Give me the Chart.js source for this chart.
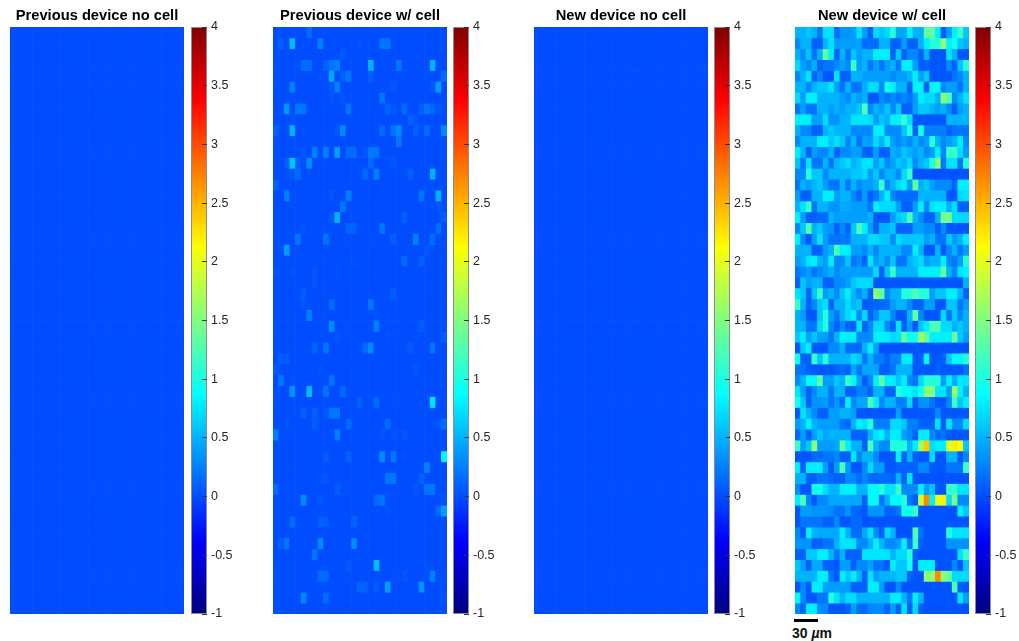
<!DOCTYPE html>
<html>
<head>
<meta charset="utf-8">
<title>Device heatmaps</title>
<script src="https://cdn.jsdelivr.net/npm/chart.js@4/dist/chart.umd.min.js"></script>
<style>
  html, body { margin: 0; padding: 0; background: #fff; }
  canvas { position: absolute; }
  #scaleBar { position: absolute; left: 794px; top: 619px; width: 24px; height: 3px; background: #000; }
  #scaleText { position: absolute; left: 792px; top: 625px; font: bold 14px "Liberation Sans", sans-serif; color: #111; white-space: nowrap; }
  #scaleText i { font-weight: bold; }
</style>
</head>
<body>
<canvas id="heat0"></canvas><canvas id="bar0"></canvas>
<canvas id="heat1"></canvas><canvas id="bar1"></canvas>
<canvas id="heat2"></canvas><canvas id="bar2"></canvas>
<canvas id="heat3"></canvas><canvas id="bar3"></canvas>
<div id="scaleBar"></div>
<div id="scaleText">30 <i>&micro;</i>m</div>
<script>
const titles = ['Previous device no cell', 'Previous device w/ cell', 'New device no cell', 'New device w/ cell'];
const colorbarTicks = [-1, -0.5, 0, 0.5, 1, 1.5, 2, 2.5, 3, 3.5, 4];
const rowCount = 54;
const columnCount = 31;

// previous device w/ cell is flat except for a few spots: [row, column, value]
const prevCellSpots = [
  [0,6,.15],[1,1,.1],[1,3,.55],[1,8,.25],[1,15,.03],[1,19,.2],[1,20,.2],[2,12,.06],
  [3,5,.15],[3,6,.15],[3,9,.1],[3,10,.2],[3,11,.25],[3,17,.5],[3,22,.2],[3,28,.5],
  [4,10,.45],[4,12,.1],[4,13,.2],[4,17,.08],[4,30,.15],
  [5,3,.25],[5,10,.05],[5,11,.25],[5,21,.05],[5,28,.05],[5,29,.4],
  [6,10,.05],[6,12,.05],[6,19,.2],
  [7,2,.35],[7,4,.2],[7,5,.2],[7,13,.2],[7,20,.1],[7,21,.05],[7,23,.15],[7,26,.1],[7,27,.2],[7,28,.1],[7,29,.05],
  [8,3,.03],[8,24,.1],[8,25,.05],
  [9,0,.1],[9,3,.5],[9,11,.05],[9,12,.3],[9,19,.15],[9,21,.2],[9,22,.3],[9,25,.1],[9,27,.15],[9,30,.3],
  [10,22,.2],
  [11,5,.05],[11,7,.25],[11,9,.25],[11,11,.4],[11,13,.15],[11,14,.15],[11,16,.05],[11,17,.2],[11,18,.2],
  [12,2,.1],[12,3,.6],[12,4,.1],[12,6,.3],[12,17,.15],[12,21,.05],
  [13,3,.05],[13,4,.15],[13,16,.15],[13,18,.25],[13,24,.1],[13,28,.5],
  [14,0,.1],
  [15,2,.25],[15,10,.05],[15,13,.25],[15,26,.2],[15,29,.5],
  [16,12,.2],[16,29,.05],
  [17,10,.05],[17,11,.5],[17,23,.1],[17,30,.08],
  [18,5,.02],[18,13,.1],[18,14,.1],[18,19,.2],[18,29,.15],
  [19,4,.2],[19,9,.2],[19,21,.1],[19,25,.25],[19,28,.15],
  [20,2,.4],[20,27,.05],
  [21,14,.03],[21,23,.15],[21,26,.1],
  [22,0,.03],[22,3,.03],[22,7,.05],[22,11,.02],
  [23,7,.05],
  [24,5,.08],[24,21,.08],
  [25,5,.05],[25,10,.15],[25,17,.2],
  [26,6,.25],[26,18,.03],[26,20,.02],
  [27,10,.3],[27,18,.25],[27,26,.08],
  [28,11,.05],[28,20,.02],[28,30,.08],
  [29,7,.12],[29,9,.2],[29,16,.15],[29,17,.3],[29,24,.07],[29,28,.2],
  [30,1,.08],[30,2,.08],
  [31,0,.07],[31,8,.03],[31,25,.05],
  [32,1,.2],[32,3,.04],[32,10,.2],[32,26,.02],
  [33,3,.35],[33,6,.55],[33,9,.2],[33,12,.15],
  [34,15,.1],[34,18,.15],[34,28,.75],
  [35,5,.1],[35,7,.1],[35,9,.05],[35,10,.2],[35,11,.2],
  [36,2,.02],[36,7,.08],[36,13,.15],[36,20,.15],[36,29,.04],[36,30,.15],
  [37,0,.25],[37,11,.25],[37,19,.04],[37,21,.03],[37,23,.06],
  [39,9,.08],[39,13,.1],[39,19,.3],[39,21,.2],[39,23,.03],[39,30,.85],
  [40,27,.25],
  [41,8,.02],[41,9,.05],[41,20,.2],[41,21,.2],[41,26,.1],
  [42,0,.15],[42,11,.08],[42,25,.05],[42,27,.2],[42,28,.2],
  [43,5,.3],[43,8,.05],[43,18,.15],[43,19,.2],[43,30,.03],
  [44,20,.03],[44,29,.15],[44,30,.4],
  [45,3,.15],[45,8,.1],[45,9,.08],[45,14,.12],
  [47,1,.08],[47,2,.2],[47,8,.3],[47,14,.3],
  [48,7,.2],
  [49,13,.06],[49,18,.55],
  [50,7,.03],[50,8,.15],[50,9,.15],[50,23,.06],[50,28,.25],
  [51,15,.12],[51,16,.1],[51,18,.08],[51,20,.4],[51,26,.35],
  [52,5,.3],[52,9,.15],[52,30,.03]
];

const newCellRows = [
  [.5,.5,.6,.5,.2, .75,.75,.15,.35,.35, .4,.75,.4,.1,.7, .6,.7,1.05,.45,.45, .8,.5,.5,1.35,1.35, .8,.1,.4,.8,1.15, .6],
  [.3,.5,.5,.1,.1, .5,.75,.4,.4,.4, .4,.4,.15,.15,.15, .5,.5,.1,.1,.4, .1,.1,.5,.8,1.05, 1.05,1.55,.8,.95,.6, .5],
  [.5,.3,.6,.2,.5, 1.35,.8,.1,.5,.2, .6,.4,.5,.5,.8, .8,.8,.1,.6,.1, .3,.3,.1,.5,.05, .05,.05,.75,.5,.05, .05],
  [.7,.4,.3,.5,.1, .2,.2,.3,.4,.3, 1.15,.4,.5,.2,.4, .2,.4,.5,.2,.8, .8,.4,.1,.1,.05, .05,.05,.3,.1,.6, 1.05],
  [.3,.5,.75,.1,.3, .05,.05,.75,.1,.1, .5,.5,.4,.4,.4, .4,.4,.3,.4,.4, .5,.8,.4,.6,.05, .05,.05,.05,.2,.3, .5],
  [.5,.5,.3,.5,.6, .6,.75,.4,.2,.5, .2,.2,.5,.7,.7, .3,.95,.8,.5,.5, .1,.8,.8,.1,.85, .85,.3,.4,.4,.2, .5],
  [.7,.4,.8,.8,.5, .5,.5,.5,.4,.3, .5,.4,.5,.05,.05, .3,.2,.3,.2,.3, .2,.4,.8,.7,.7, .5,1.55,1.25,.3,.5, .75],
  [.2,.4,.2,.2,.5, .5,.4,.5,.4,.5, .5,.6,1.25,.3,.5, .4,.6,.3,.6,.1, .1,.4,.6,.6,.5, .4,.5,.3,.1,.4, .5],
  [.8,.8,.8,.4,.4, .7,.35,.35,.5,.5, .75,.75,.75,.7,.4, .6,.5,.8,.8,1.15, .75,.05,.05,.05,.05, .05,.05,.5,.5,.5, .5],
  [.5,.3,.3,.1,.1, .5,.6,.5,.5,.5, .3,.3,.3,.3,.8, .8,.3,.3,.3,.6, 1.05,.1,.95,.25,.25, .25,.25,.1,.2,.2, .2],
  [.3,.5,.5,.5,.8, .8,.6,.75,.6,.3, .5,.2,.4,.4,.7, .5,.8,.4,.3,.4, .3,.5,.3,.4,1.05, .5,.3,.4,.5,.8, .3],
  [.8,.5,.1,.4,.3, .3,.5,.1,.3,.3, .4,.4,.1,.1,.4, .1,.1,.5,.4,.6, .5,.4,.5,.3,.4, .8,.3,1.15,1.15,.7, .4],
  [.6,.2,.75,.2,.2, .5,.2,.5,.6,.7, .5,.6,.75,.75,.4, .6,.3,.4,.6,.5, .7,.3,.5,.6,1.05, 1.55,.2,.75,.75,.2, 1.05],
  [.3,.3,1.05,.6,.6, .3,.5,.5,.5,.5, .6,.6,.7,.4,.6, .3,.5,.5,.3,.7, 1.15,.03,.03,.03,.03, .03,.03,.03,.03,.03, .03],
  [.2,.5,.4,.5,.6, .4,.2,.2,.5,.2, .5,.3,.4,.4,.5, 1.15,.3,.5,.7,.8, .4,1.35,.5,.6,.4, .3,.3,.3,.1,.8, .8],
  [.4,.1,.1,.5,.5, .8,.8,.4,.5,.5, .3,.1,.4,.1,.2, .5,.8,.3,.15,.15, .15,.15,.5,.5,.5, .5,.5,.05,.05,.7, .75],
  [.5,.75,1.15,.2,.5, .5,.35,.35,.45,.45, .4,.4,.4,.2,.8, .7,.7,.7,.4,.1, .1,.4,.8,.3,.75, .8,.8,.5,.7,.1, .1],
  [.8,.4,.1,.1,.15, .15,.5,.4,.4,.4, .4,.4,.4,.5,.05, .05,.05,.4,.6,.7, 1.25,.5,.3,.1,.1, .5,1.45,1.45,.7,.7, .7],
  [.3,.6,1.25,.5,.6, .4,.35,.1,.3,.1, .6,1.25,.8,.4,.1, .5,.5,.6,.1,.1, .1,.4,.4,.3,.3, .1,.3,.05,.05,.05, .05],
  [.8,.3,.05,.4,.75, .4,.2,.2,.2,.2, .5,.5,.5,.7,.7, .6,.6,.3,.7,.6, .6,.6,.6,.4,.5, .2,.2,.6,.4,.5, .8],
  [.5,.5,.5,.1,.1, .4,.5,1.25,.8,.8, .4,.4,.3,.5,.3, .5,.5,.5,.5,.3, .3,.8,.5,.05,.05, .5,.05,.3,.5,.2, .4],
  [.4,.5,.75,.8,.5, .4,.8,.3,.3,.6, .2,.3,.1,.75,.4, .5,.3,.6,.2,.2, .5,.6,.7,.4,.5, .5,.8,.3,.2,.4, 1.05],
  [.2,.3,.4,.2,.3, .4,.5,.3,.4,.4, .4,.4,.4,.4,.7, .1,.6,1.15,.5,.5, .5,.5,.8,.8,.8, .8,1.35,.5,.3,.75, .8],
  [.1,.6,.4,.5,.5, .1,.1,.3,.3,.4, .6,.7,.7,.7,.05, .05,.05,.05,.05,.05, .05,.05,.05,.05,.05, .05,.05,.05,.05,.05, .5],
  [.75,.6,.1,.6,1.15, .4,.5,.3,.6,.8, .5,.3,.5,.1,1.55, 1.35,.3,.5,.5,1.05, 1.05,1.25,1.05,1.05,.4, .6,.6,.8,.8,.5, .1],
  [1.15,.5,.1,.3,.6, .75,.1,.5,.5,.7, .5,.6,.05,.1,.1, .15,.15,.4,.5,.5, .3,.1,.1,.4,.4, .05,.05,.6,.6,.2, .4],
  [.5,.4,.05,.05,.6, 1.05,.4,.2,.5,.7, .8,.3,.7,.1,.3, .6,.6,.3,.05,.05, .5,1.35,.3,.05,.05, .05,.7,.2,.6,.3, .5],
  [.5,.5,.2,.2,.7, 1.05,.3,.1,.3,.1, .1,.75,.1,.3,.7, .7,.3,.1,.75,.1, .4,.05,.6,.8,1.25, 1.25,.7,.7,.5,.6, .5],
  [.6,.8,.4,.6,.4, .4,.2,.5,.8,.8, .8,.3,.3,.3,.8, .8,.8,.7,.75,1.35, .95,.95,1.65,1.35,.8, .8,.8,.8,1.35,.6, .4],
  [.05,.6,.8,.05,.05, .05,.3,.3,.5,.15, .15,.15,.5,.8,.4, .03,.03,.03,.03,.03, .03,.03,.03,.03,.03, .03,.03,.03,.03,.03, .03],
  [.95,.1,.1,1.15,.6, 1.05,.5,.5,.5,.5, .7,.6,.2,.5,.25, .25,.1,.25,.25,.78, .78,.05,.1,.85,.05, .05,.1,.6,.85,.85, 1.05],
  [.2,.2,.1,.05,.05, .05,.05,.1,.15,.1, .45,.2,.45,.45,.45, .1,.1,.2,.5,.5, .5,.05,.05,.05,.05, .1,.05,.05,.05,.05, .2],
  [.3,.5,.85,.85,1.35, .4,.4,.6,.5,1.15, .85,.4,.05,.3,.8, 1.35,.8,.8,.6,.8, .3,.2,.7,1.05,1.05, 1.05,.4,.8,.5,.75, .75],
  [.75,.4,.1,.3,.5, .5,.2,.5,.5,.1, .1,.25,.25,.1,.5, .5,.1,.1,1.05,.85, .85,.75,.95,1.55,1.55, .75,.75,.4,1.65,.8, .5],
  [.95,.6,.1,.35,.35, .4,.2,.35,.15,.8, .3,.45,.45,1.25,.8, .3,.5,.5,.25,.25, .7,.05,.35,.35,.2, .05,.05,.3,1.15,.6, .8],
  [.05,.75,.5,.3,.1, .1,.4,.4,.5,.5, .4,.05,.05,.05,.05, .05,.05,.05,.4,.05, .05,.05,.05,.05,.05, .3,.05,.05,.05,.05, .05],
  [.4,.5,.8,.5,.4, .4,.4,.4,.2,.15, .5,.8,.75,1.05,.25, .25,.25,.7,.7,.6, .25,.25,.1,.1,.1, .75,.1,.75,.3,.3, .7],
  [.15,.4,.1,.4,.6, .45,.5,.5,.5,.5, .1,.1,.1,.5,.75, .8,.5,.8,.78,.4, .3,.1,.8,.8,.3, .15,.2,.05,.05,.05, .05],
  [1.15,.4,.6,1.55,.4, .4,.4,.45,1.35,.8, .5,.5,.1,1.25,.5, .3,.3,1.05,1.05,1.05, .5,.8,1.65,2.4,.7, .8,.8,2,2.2,2.1, .6],
  [.05,.05,.05,.15,.15, .2,.2,.3,.1,.1, .75,.3,.5,.5,.3, .05,.05,.05,.8,.1, .5,.1,.05,.05,.7, .05,.05,.5,.5,.05, .3],
  [.8,.1,.8,.8,.8, .4,.05,.4,1.25,.4, .05,.05,.3,.7,.4, .4,.05,.05,.1,.1, .1,.1,.3,.3,.05, .05,.05,.2,.2,.2, 1.15],
  [.5,.5,.1,.1,.2, .2,.15,.1,.1,.3, .3,.15,.3,.15,.15, .15,.15,.1,.5,.1, .75,.03,.03,.03,.03, .03,.03,.03,.03,.03, .03],
  [.3,.05,.05,.95,.95, .7,.5,.5,.8,.8, .8,.5,.5,.85,.85, 1.05,.75,.75,1.15,.3, .3,.3,.8,.4,.6, .05,.05,1.15,1.15,.75, .75],
  [.8,1.25,.3,.05,.3, .3,.45,.45,.45,.45, .45,.45,.1,.85,.85, .2,.5,.85,.85,1.05, .2,.1,1.85,2.7,.8, 2,2.2,.7,1.45,.3, .3],
  [.05,.4,.4,.35,.35, .35,.3,.2,.2,.35, .15,.1,.05,.35,.35, .35,.1,.1,.2,.95, .95,1.15,.03,.03,.03, .03,.03,.03,.03,.8, .6],
  [.03,.2,.2,.2,.2, .1,.1,.3,.05,.05, .15,.15,.03,.03,.03, .03,.03,.03,.03,.03, .03,.03,.03,.03,.03, .03,.03,.03,.03,.03, .03],
  [.3,.05,.8,.5,.45, .45,.45,.45,.8,.5, .15,.15,.45,.75,.3, .1,.7,.5,.03,.03, .03,1.25,.2,.03,.03, .03,.03,1.05,.75,.75, .75],
  [.35,.35,.35,.1,.1, .2,.2,.5,.75,.75, .75,.3,.3,.5,.8, .5,.3,.3,.4,.8, .2,1.15,.1,.03,.03, .03,.03,.35,.35,.35, .35],
  [.1,.1,.6,.6,.8, .8,.5,.2,.5,.1, .1,.1,.75,.75,.75, .75,.75,.5,.7,.7, 1.05,.1,.03,.03,.03, .03,.03,.03,.03,.75, 1.15],
  [.6,.4,.1,.45,.45, .1,.1,.05,.4,.4, .1,.3,.3,.4,.2, .2,.05,.8,.6,.6, .95,.05,.8,.8,.8, .03,.03,.03,.3,.05, .6],
  [.5,.5,.5,.5,.8, .8,.2,.05,.8,.6, .8,.5,.1,.75,.4, .5,.5,.5,.6,.6, .1,.05,.03,1.55,1.55, 2.7,1.55,1.35,.7,.7, .7],
  [.05,.3,.05,.78,.78, .4,.4,.4,.4,.4, .1,.1,.1,.8,.8, .4,.03,.03,.3,.03, .03,.03,.03,.03,.03, .03,.03,.03,1.25,.1, .05],
  [.85,.3,.05,.05,.2, .2,1.05,.75,.5,.7, .7,.5,.5,.5,.5, .5,.5,.78,.78,.5, .2,.8,.5,.03,.03, .03,.03,.03,.03,.75, .4],
  [.3,.1,.8,.8,.3, .3,.05,.05,.05,.1, .4,.15,.15,.3,.3, .3,.1,.4,.1,.75, .1,.7,.1,.03,.03, .03,.03,.03,.03,.03, .03]
];

// jet colormap stops over the -1..4 range
const jetPositions = [0, 0.125, 0.375, 0.625, 0.875, 1];
const jetRed = [0, 0, 0, 1, 1, 0.5];
const jetGreen = [0, 0, 1, 1, 0, 0];
const jetBlue = [0.5, 1, 1, 0, 0, 0];
const colorMin = -1;
const colorMax = 4;

function lerpStops(stops, t) {
  let i = 0;
  while (i < jetPositions.length - 2 && t > jetPositions[i + 1]) i++;
  const f = (t - jetPositions[i]) / (jetPositions[i + 1] - jetPositions[i]);
  return Math.round(255 * (stops[i] + (stops[i + 1] - stops[i]) * f));
}

function jetColor(v) {
  const t = Math.min(1, Math.max(0, (v - colorMin) / (colorMax - colorMin)));
  return `rgb(${lerpStops(jetRed, t)},${lerpStops(jetGreen, t)},${lerpStops(jetBlue, t)})`;
}

const emptyRows = Array.from({ length: rowCount }, () => new Array(columnCount).fill(0));
const prevCellRows = emptyRows.map(r => r.slice());
prevCellSpots.forEach(([r, c, v]) => { prevCellRows[r][c] = v; });
const panels = [emptyRows, prevCellRows, emptyRows, newCellRows];
const columns = newCellRows[0].map((_, i) => i + 1);

const panelLeft = [10, 273, 534, 795];
const barLeft = [191, 453, 714, 975];

function place(canvas, left, top, width, height) {
  canvas.width = width;
  canvas.height = height;
  canvas.style.left = left + 'px';
  canvas.style.top = top + 'px';
}

panels.forEach((rows, p) => {
  const heat = document.getElementById('heat' + p);
  place(heat, panelLeft[p], 0, 174, 614);
  new Chart(heat, {
    type: 'bar',
    data: {
      labels: columns,
      datasets: rows.map((row, r) => ({
        data: row.map(() => [r, r + 1]),
        backgroundColor: row.map(jetColor),
        grouped: false,
        barPercentage: 1,
        categoryPercentage: 1,
        borderWidth: 0
      }))
    },
    options: {
      responsive: false,
      animation: false,
      events: [],
      layout: { padding: 0 },
      plugins: {
        legend: { display: false },
        tooltip: { enabled: false },
        title: {
          display: true,
          text: titles[p],
          color: '#000',
          font: { family: '"Liberation Sans", sans-serif', size: 14.7, weight: 'bold' },
          padding: { top: 7, bottom: 2.4 }
        }
      },
      scales: {
        x: { display: false },
        y: { display: false, reverse: true, min: 0, max: rowCount }
      }
    }
  });

  const bar = document.getElementById('bar' + p);
  // the scale reserves half a label plus the tick padding, so the canvas runs past 27..614
  place(bar, barLeft[p], 10, 52, 621);
  new Chart(bar, {
    type: 'bar',
    data: {
      labels: [''],
      datasets: [{
        data: [[colorMin, colorMax]],
        backgroundColor: ctx => {
          const area = ctx.chart.chartArea;
          if (!area) return '#000';
          const g = ctx.chart.ctx.createLinearGradient(0, area.bottom, 0, area.top);
          jetPositions.forEach((pos, i) => {
            g.addColorStop(pos, `rgb(${255 * jetRed[i]},${255 * jetGreen[i]},${255 * jetBlue[i]})`);
          });
          return g;
        },
        barPercentage: 1,
        categoryPercentage: 1,
        borderWidth: 1,
        borderColor: '#8c8c8c',
        borderSkipped: false,
        inflateAmount: 0
      }]
    },
    options: {
      responsive: false,
      animation: false,
      events: [],
      layout: { padding: { top: 17, bottom: 17 } },
      plugins: { legend: { display: false }, tooltip: { enabled: false } },
      scales: {
        x: { display: false },
        y: {
          position: 'right',
          min: colorMin,
          max: colorMax,
          afterFit: scale => { scale.width = 36; },
          afterBuildTicks: scale => { scale.ticks = colorbarTicks.map(value => ({ value })); },
          border: { display: false },
          grid: { drawOnChartArea: false, tickLength: -5, tickColor: '#333', tickWidth: 1, z: 1 },
          ticks: {
            callback: v => String(v),
            autoSkip: false,
            padding: 9,
            color: '#262626',
            font: { family: '"Liberation Sans", sans-serif', size: 12.5 }
          }
        }
      }
    }
  });
});
</script>
</body>
</html>
